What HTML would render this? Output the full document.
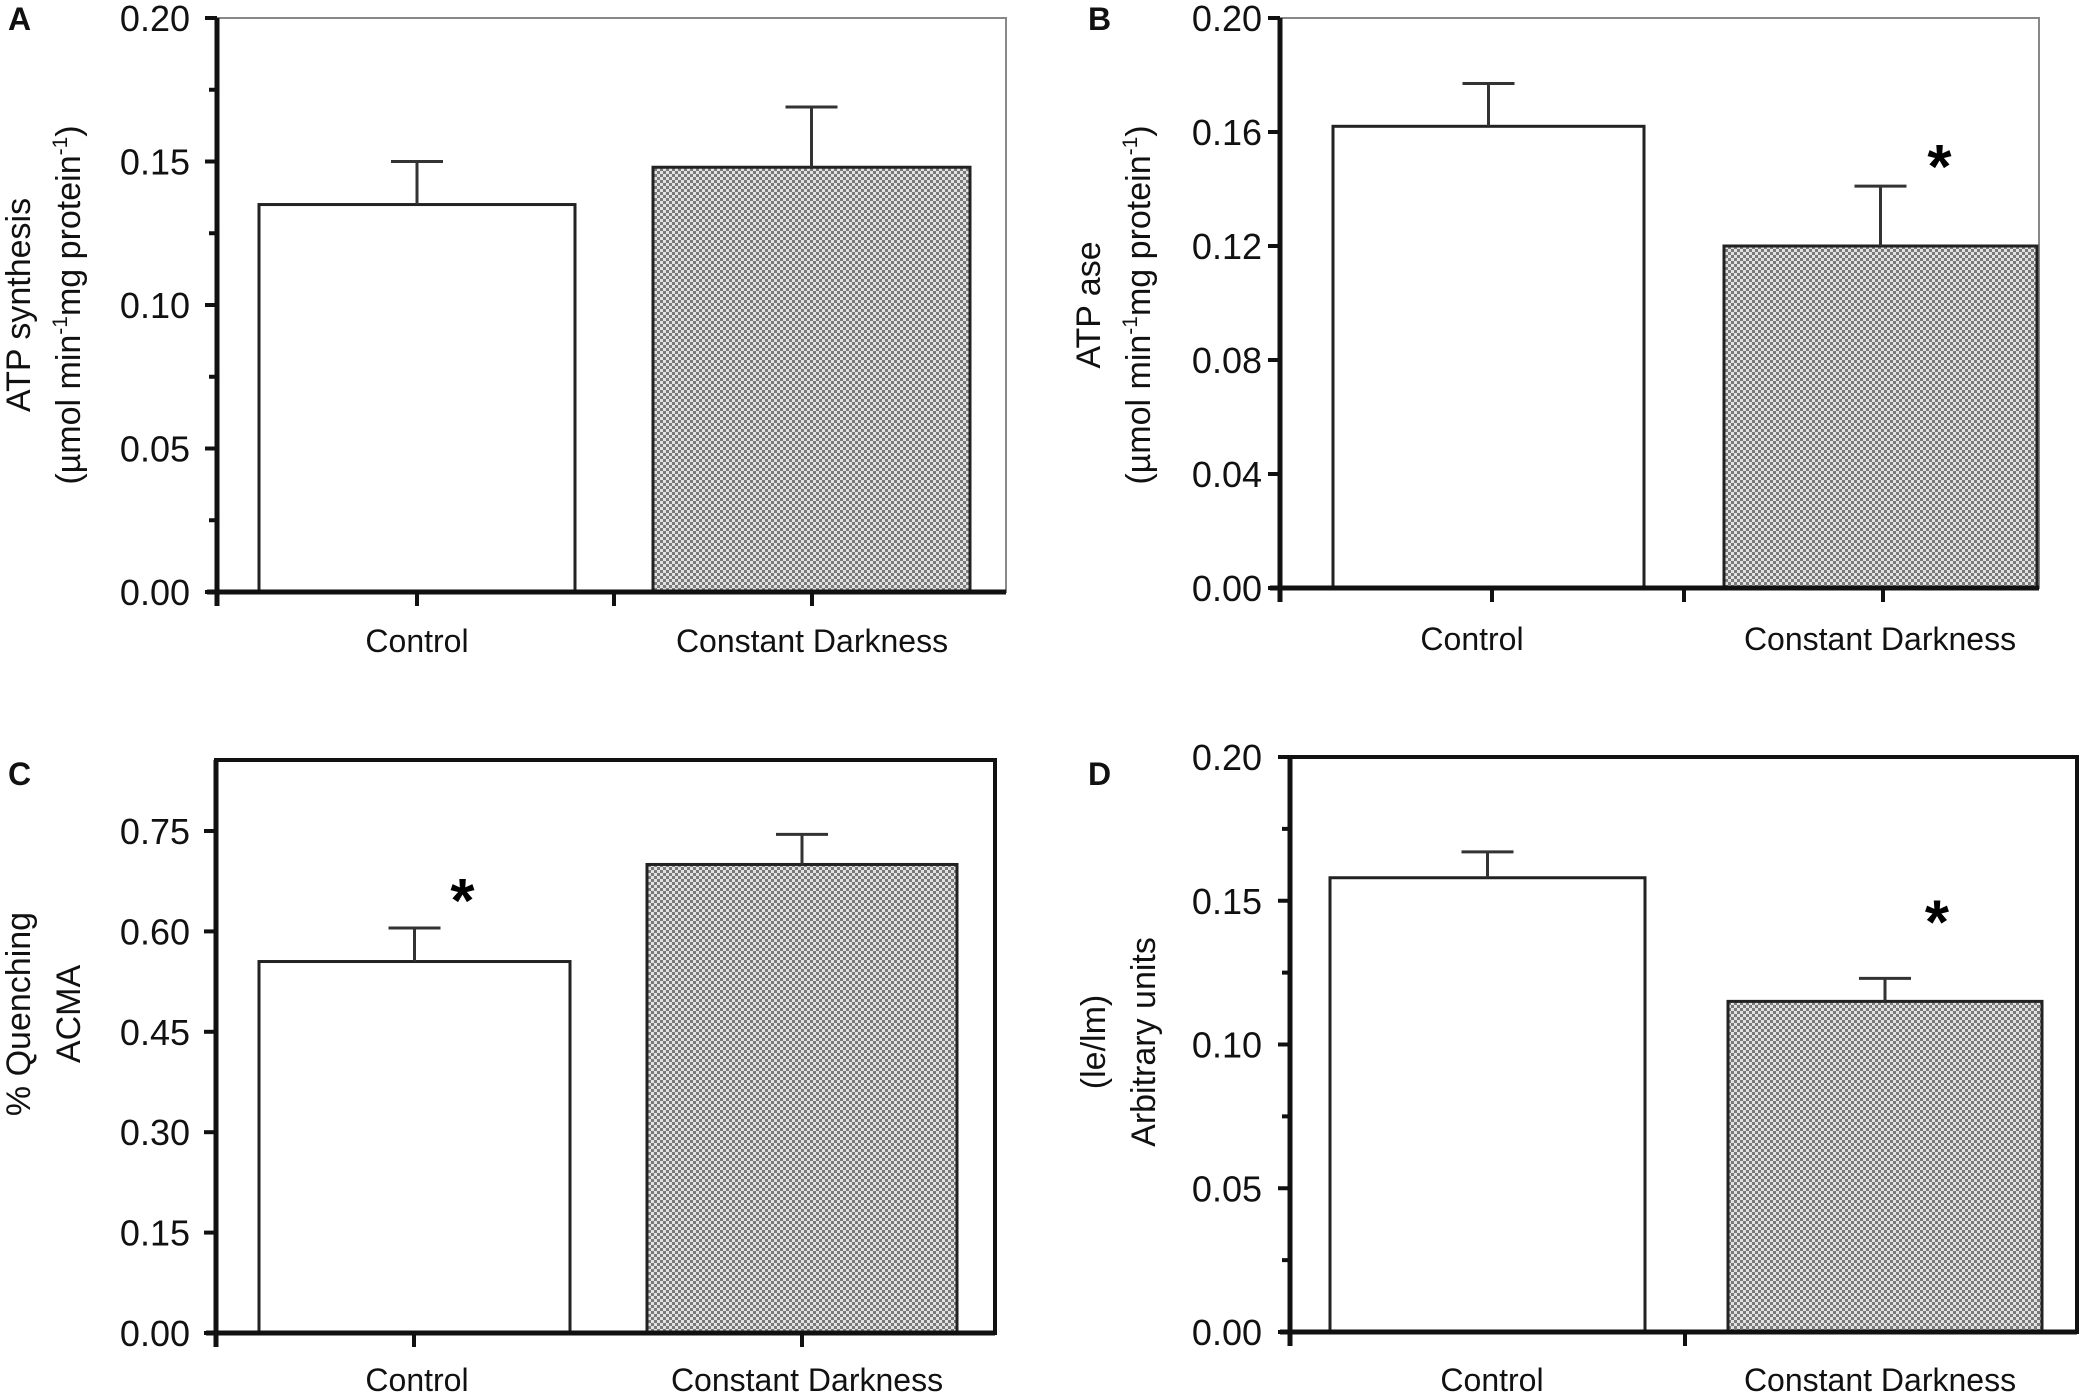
<!DOCTYPE html>
<html><head><meta charset="utf-8"><style>
html,body{margin:0;padding:0;background:#fff;}
svg{display:block;font-family:"Liberation Sans",sans-serif;}
</style></head><body>
<svg id="fig" width="2079" height="1394" viewBox="0 0 2079 1394" xmlns="http://www.w3.org/2000/svg">
<defs>
<pattern id="chk" width="6" height="6" patternUnits="userSpaceOnUse">
<rect width="6" height="6" fill="#e2e2e2"/><rect width="3" height="3" fill="#7a7a7a"/><rect x="3" y="3" width="3" height="3" fill="#7a7a7a"/>
</pattern>
</defs>
</svg>
<script>
const categories = ["Control", "Constant Darkness"];
const valuesA = [0.135, 0.148];
const errorsA = [0.150, 0.169];
const ticksA = ["0.00", "0.05", "0.10", "0.15", "0.20"];
const valuesB = [0.162, 0.120];
const errorsB = [0.177, 0.141];
const ticksB = ["0.00", "0.04", "0.08", "0.12", "0.16", "0.20"];
const valuesC = [0.555, 0.700];
const errorsC = [0.605, 0.745];
const ticksC = ["0.00", "0.15", "0.30", "0.45", "0.60", "0.75"];
const valuesD = [0.158, 0.115];
const errorsD = [0.167, 0.123];
const ticksD = ["0.00", "0.05", "0.10", "0.15", "0.20"];
const starsB = [false, true];
const starsC = [true, false];
const starsD = [false, true];

const NS = "http://www.w3.org/2000/svg";
const svg = document.getElementById("fig");
function mk(tag, attrs, parent, txt){
  const e = document.createElementNS(NS, tag);
  for (const k in attrs) e.setAttribute(k, attrs[k]);
  if (txt !== undefined) e.textContent = txt;
  (parent || svg).appendChild(e);
  return e;
}

function panel(cfg){
  const g = mk("g", {});
  
  
  const tickVals = cfg.ticks.map(Number);
  const v0 = tickVals[0], v1 = tickVals[tickVals.length-1];
  const y = v => cfg.y0 + (v - v0) / (v1 - v0) * (cfg.yTop - cfg.y0);
  const frame = mk("rect", {x: cfg.left, y: cfg.top, width: cfg.right - cfg.left, height: cfg.y0 - cfg.top, fill: "none", stroke: cfg.frameColor, "stroke-width": cfg.frameW}, g);
  
  
  cfg.values.forEach((v, i) => {
    const bx = cfg.barX[i];
    const bar = mk("rect", {x: bx[0], y: y(v), width: bx[1] - bx[0], height: cfg.y0 - y(v), fill: i === 0 ? "#fff" : "url(#chk)", stroke: "#222", "stroke-width": 3}, g);
    
    
    const cx = (bx[0] + bx[1]) / 2;
    const ey = y(cfg.errors[i]);
    const eb = mk("path", {d: `M${cx},${y(v)} V${ey} M${cx-26},${ey} H${cx+26}`, stroke: "#333", "stroke-width": 3, fill: "none"}, g);
    
    
    if (cfg.stars && cfg.stars[i]) {
      const st = mk("text", {x: cx + cfg.starDx, y: ey + cfg.starDy, "font-size": 62, "font-weight": "bold", "text-anchor": "middle"}, g, "*");
      
      
    }
    const cl = mk("text", {x: cfg.catX[i], y: cfg.catY, "font-size": 32, "text-anchor": "middle", fill: "#111"}, g, categories[i]);
    
    
  });
  const ax = mk("path", {d: `M${cfg.left},${cfg.top} V${cfg.y0+14} M${cfg.left-10},${cfg.y0} H${cfg.right}`, stroke: "#111", "stroke-width": 5, fill: "none"}, g);
  
  
  cfg.xTicks.forEach(tx => {
    const t = mk("line", {x1: tx, x2: tx, y1: cfg.y0, y2: cfg.y0 + 14, stroke: "#111", "stroke-width": 4}, g);
    
    
  });
  cfg.ticks.forEach((t, i) => {
    const yy = y(tickVals[i]);
    const tk = mk("line", {x1: cfg.left - 12, x2: cfg.left, y1: yy, y2: yy, stroke: "#111", "stroke-width": 4}, g);
    
    
    if (cfg.minor && i < cfg.ticks.length - 1) {
      const ym = y((tickVals[i] + tickVals[i+1]) / 2);
      const mt = mk("line", {x1: cfg.left - 8, x2: cfg.left, y1: ym, y2: ym, stroke: "#111", "stroke-width": 4}, g);
      
      
    }
    const tl = mk("text", {x: cfg.labelRight, y: yy + 13, "font-size": 36, "text-anchor": "end", fill: "#111"}, g, t);
    
    
  });
  cfg.title.forEach((line, i) => {
    const yt = mk("text", {transform: `translate(${cfg.titleX + i * 50},${cfg.titleY}) rotate(-90)`, "font-size": 34, "text-anchor": "middle", fill: "#111"}, g);
    
    
    if (Array.isArray(line)) {
      line.forEach(seg => {
        const s = mk("tspan", {}, yt, seg[0]);
        if (seg[1]) { s.setAttribute("font-size", 21); s.setAttribute("dy", -13); }
        else if (seg[2]) { s.setAttribute("dy", 13); }
      });
    } else yt.textContent = line;
  });
  const pl = mk("text", {x: cfg.letterX, y: cfg.letterY, "font-size": 32, "font-weight": "bold", fill: "#111"}, g, cfg.letter);
  
  
}

const unitTitle = [["(µmol min"],["-1",true],["mg protein",false,true],["-1",true],[")",false,true]];

panel({name: "panel-a-atp-synthesis", letter: "A", letterX: 8, letterY: 30, values: valuesA, errors: errorsA, ticks: ticksA,
  left: 217, right: 1006, top: 18, y0: 592, yTop: 18, frameColor: "#888", frameW: 2, minor: true,
  barX: [[259, 575], [653, 970]], xTicks: [417, 614, 812], catX: [417, 812], catY: 652, labelRight: 190,
  titleX: 30, titleY: 305, title: ["ATP synthesis", unitTitle]});
panel({name: "panel-b-atpase", letter: "B", letterX: 1088, letterY: 30, values: valuesB, errors: errorsB, ticks: ticksB, stars: starsB, starDx: 59, starDy: 2,
  left: 1280, right: 2039, top: 18, y0: 588, yTop: 18, frameColor: "#888", frameW: 2, minor: false,
  barX: [[1333, 1644], [1724, 2037]], xTicks: [1492, 1684, 1883], catX: [1472, 1880], catY: 650, labelRight: 1262,
  titleX: 1100, titleY: 305, title: ["ATP ase", unitTitle]});
panel({name: "panel-c-quenching", letter: "C", letterX: 8, letterY: 785, values: valuesC, errors: errorsC, ticks: ticksC, stars: starsC, starDx: 48, starDy: -6,
  left: 216, right: 995, top: 760, y0: 1333, yTop: 831, frameColor: "#111", frameW: 4, minor: false,
  barX: [[259, 570], [647, 957]], xTicks: [414, 802], catX: [417, 807], catY: 1391, labelRight: 190,
  titleX: 30, titleY: 1014, title: ["% Quenching", "ACMA"]});
panel({name: "panel-d-arbitrary-units", letter: "D", letterX: 1088, letterY: 785, values: valuesD, errors: errorsD, ticks: ticksD, stars: starsD, starDx: 52, starDy: -35,
  left: 1290, right: 2077, top: 757, y0: 1332, yTop: 757, frameColor: "#111", frameW: 4, minor: true,
  barX: [[1330, 1645], [1728, 2042]], xTicks: [1685], catX: [1492, 1880], catY: 1391, labelRight: 1262,
  titleX: 1105, titleY: 1042, title: ["(le/lm)", "Arbitrary units"]});
</script>
</body></html>
